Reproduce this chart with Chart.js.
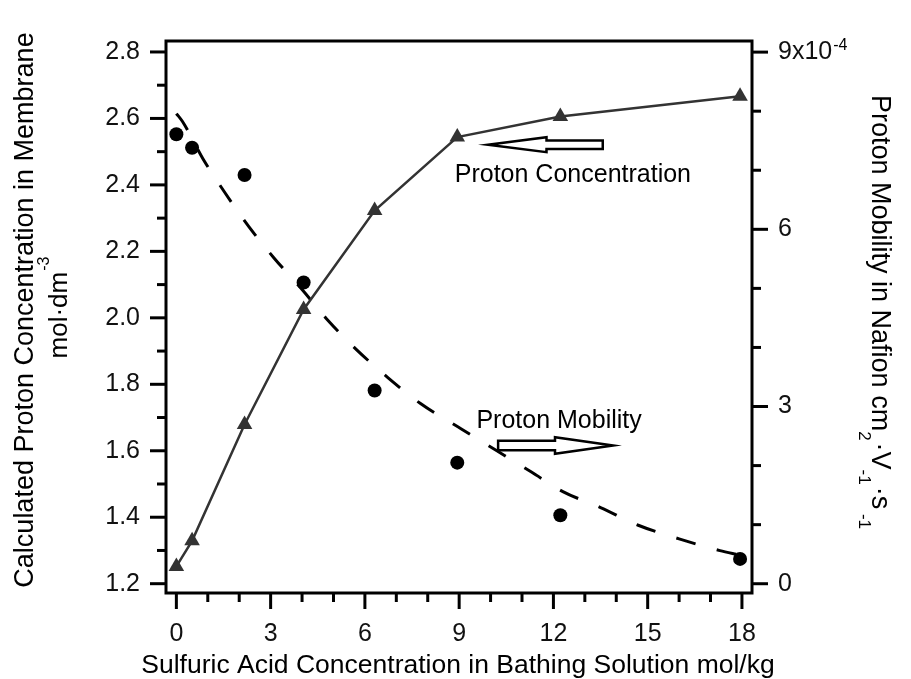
<!DOCTYPE html>
<html>
<head>
<meta charset="utf-8">
<script src="https://cdn.jsdelivr.net/npm/chart.js@4.4.1/dist/chart.umd.min.js"></script>
<style>
  html, body { margin: 0; padding: 0; background: #fff; }
</style>
</head>
<body>
<canvas id="chart" width="911" height="679"></canvas>
<script>
// sulfuric acid concentration of the bathing solution, mol/kg
const acidConc = [0, 0.5, 2.17, 4.05, 6.31, 8.94, 12.22, 17.94];
// calculated proton concentration in the membrane, mol/dm^3 (left axis)
const protonConc = [1.252, 1.329, 1.679, 2.025, 2.323, 2.544, 2.606, 2.667];
// proton mobility, in units of 1e-4 cm^2/(V s) (right axis)
const mobility = [7.61, 7.38, 6.92, 5.10, 3.27, 2.05, 1.16, 0.42];
// dashed fit curve through the mobility points
const fitX = [0, 0.2, 0.84, 1.52, 2.3, 3.1, 4.0, 4.82, 5.74, 6.73, 7.77, 9.07, 10.2, 11.3, 12.3, 13.5, 14.7, 16.0, 17.3, 17.9];
const fitY = [7.96, 7.82, 7.2, 6.64, 6.05, 5.52, 4.98, 4.46, 3.96, 3.49, 3.05, 2.62, 2.25, 1.89, 1.56, 1.29, 0.99, 0.76, 0.56, 0.49];

const xTicks = [0, 3, 6, 9, 12, 15, 18];
const leftTicks = [1.2, 1.4, 1.6, 1.8, 2.0, 2.2, 2.4, 2.6, 2.8];
const rightTicks = [0, 3, 6, 9];

const FONT = '"Liberation Sans", Arial, sans-serif';

const pts = (xs, ys) => xs.map((x, i) => ({ x: x, y: ys[i] }));

const decor = {
  id: 'decor',
  afterDraw(chart) {
    const { ctx, chartArea: a, scales } = chart;
    const xs = scales.x, yl = scales.y, yr = scales.y2;
    ctx.save();
    ctx.strokeStyle = '#000';
    ctx.lineWidth = 3;
    ctx.strokeRect(a.left, a.top, a.right - a.left, a.bottom - a.top);

    const line = (x1, y1, x2, y2) => {
      ctx.beginPath(); ctx.moveTo(x1, y1); ctx.lineTo(x2, y2); ctx.stroke();
    };
    // x ticks, minor every 1
    for (let v = 0; v <= 18; v++) {
      const p = xs.getPixelForValue(v);
      line(p, a.bottom, p, a.bottom + (v % 3 === 0 ? 16 : 9));
    }
    // left ticks, minor every 0.1
    for (let i = 12; i <= 28; i++) {
      const p = yl.getPixelForValue(i / 10);
      line(a.left, p, a.left - (i % 2 === 0 ? 16 : 9), p);
    }
    // right ticks, minor every 1
    for (let v = 0; v <= 9; v++) {
      const p = yr.getPixelForValue(v);
      line(a.right, p, a.right + (v % 3 === 0 ? 16 : 9), p);
    }

    ctx.fillStyle = '#000';
    // exponent on the top right tick label
    ctx.textAlign = 'left';
    ctx.textBaseline = 'alphabetic';
    ctx.font = '25px ' + FONT;
    const w9 = ctx.measureText('9x10').width;
    ctx.font = '16px ' + FONT;
    ctx.fillText('-4', a.right + 26 + w9 + 1, yr.getPixelForValue(9) - 2);

    // x axis title
    ctx.font = '26.5px ' + FONT;
    ctx.textAlign = 'center';
    ctx.fillText('Sulfuric Acid Concentration in Bathing Solution mol/kg', 458, 673);

    // left axis title
    ctx.save();
    ctx.translate(32.5, 310);
    ctx.rotate(-Math.PI / 2);
    ctx.font = '27px ' + FONT;
    ctx.textAlign = 'center';
    ctx.fillText('Calculated Proton Concentration in Membrane', 0, 0);
    ctx.restore();

    ctx.save();
    ctx.translate(67, 308);
    ctx.rotate(-Math.PI / 2);
    ctx.font = '26px ' + FONT;
    const wm = ctx.measureText('mol·dm').width;
    ctx.font = '16px ' + FONT;
    const ws = ctx.measureText('-3').width;
    const x0 = -(wm + ws) / 2;
    ctx.textAlign = 'left';
    ctx.font = '26px ' + FONT;
    ctx.fillText('mol·dm', x0, 0);
    ctx.font = '16px ' + FONT;
    ctx.fillText('-3', x0 + wm + 1, -18);
    ctx.restore();

    // right axis title, superscripts sit on the outer side as in the source
    ctx.save();
    ctx.translate(872, 95);
    ctx.rotate(Math.PI / 2);
    ctx.textAlign = 'left';
    const parts = [['Proton Mobility in Nafion cm', 0], ['2', 1], ['·V', 0], ['-1', 1], ['·s', 0], [' -1', 1]];
    let cx = 0;
    parts.forEach(([t, sup]) => {
      ctx.font = (sup ? '17px ' : '27px ') + FONT;
      ctx.fillText(t, cx, sup ? 13 : 0);
      cx += ctx.measureText(t).width + (sup ? 2 : 0);
    });
    ctx.restore();

    // annotations, placed in data coordinates of the left axis
    ctx.font = '25px ' + FONT;
    ctx.textAlign = 'left';
    ctx.textBaseline = 'middle';
    ctx.fillText('Proton Concentration', xs.getPixelForValue(8.86), yl.getPixelForValue(2.429));
    ctx.fillText('Proton Mobility', xs.getPixelForValue(9.55), yl.getPixelForValue(1.69));

    const arrow = (tip, base, tail, yv, shaft, head) => {
      const t = xs.getPixelForValue(tip), b = xs.getPixelForValue(base), e = xs.getPixelForValue(tail);
      const y = yl.getPixelForValue(yv);
      ctx.beginPath();
      ctx.moveTo(t, y);
      ctx.lineTo(b, y - head);
      ctx.lineTo(b, y - shaft);
      ctx.lineTo(e, y - shaft);
      ctx.lineTo(e, y + shaft);
      ctx.lineTo(b, y + shaft);
      ctx.lineTo(b, y + head);
      ctx.closePath();
      ctx.fillStyle = '#fff';
      ctx.fill();
      ctx.lineWidth = 2.5;
      ctx.lineJoin = 'miter';
      ctx.stroke();
    };
    arrow(9.914, 11.78, 13.57, 2.521, 4.3, 7.5);
    arrow(13.90, 12.05, 10.24, 1.616, 4.7, 8.3);
    ctx.restore();
  }
};

new Chart(document.getElementById('chart'), {
  type: 'scatter',
  data: {
    datasets: [
      {
        label: 'Proton Concentration',
        data: pts(acidConc, protonConc),
        yAxisID: 'y',
        showLine: true,
        borderColor: '#333',
        backgroundColor: '#333',
        borderWidth: 2.5,
        pointStyle: 'triangle',
        pointRadius: 9,
        pointBorderWidth: 0
      },
      {
        label: 'Proton Mobility',
        data: pts(acidConc, mobility),
        yAxisID: 'y2',
        showLine: false,
        backgroundColor: '#000',
        borderColor: '#000',
        pointStyle: 'circle',
        pointRadius: 7,
        pointBorderWidth: 0
      },
      {
        label: 'Mobility fit',
        data: pts(fitX, fitY),
        yAxisID: 'y2',
        showLine: true,
        borderColor: '#000',
        borderWidth: 3,
        borderDash: [20, 22],
        pointRadius: 0,
        cubicInterpolationMode: 'monotone'
      }
    ]
  },
  options: {
    responsive: false,
    animation: false,
    layout: { padding: { top: 17, left: 0, right: 0, bottom: 0 } },
    plugins: { legend: { display: false }, tooltip: { enabled: false } },
    scales: {
      x: {
        type: 'linear',
        position: 'bottom',
        min: -0.33,
        max: 18.32,
        afterBuildTicks: s => { s.ticks = xTicks.map(v => ({ value: v })); },
        afterFit: s => { s.height = 86; },
        grid: { display: false, drawTicks: false },
        border: { display: false },
        ticks: { padding: 26, color: '#111', font: { family: FONT, size: 25 } }
      },
      y: {
        type: 'linear',
        position: 'left',
        min: 1.172,
        max: 2.833,
        afterBuildTicks: s => { s.ticks = leftTicks.map(v => ({ value: v })); },
        afterFit: s => { s.width = 166; },
        grid: { display: false, drawTicks: false },
        border: { display: false },
        ticks: { padding: 26, color: '#111', font: { family: FONT, size: 25 }, callback: v => v.toFixed(1) }
      },
      y2: {
        type: 'linear',
        position: 'right',
        min: -0.157,
        max: 9.188,
        afterBuildTicks: s => { s.ticks = rightTicks.map(v => ({ value: v })); },
        afterFit: s => { s.width = 159; },
        grid: { display: false, drawTicks: false },
        border: { display: false },
        ticks: { padding: 26, color: '#111', font: { family: FONT, size: 25 }, callback: v => v === 9 ? '9x10' : String(v) }
      }
    }
  },
  plugins: [decor]
});
</script>
</body>
</html>
